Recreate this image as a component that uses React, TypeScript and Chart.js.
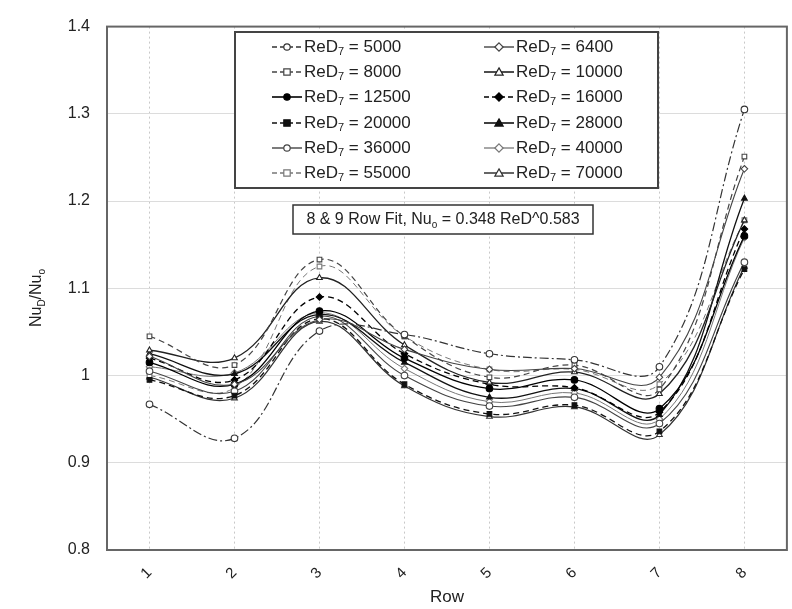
import React, { useEffect, useRef } from "react";
import { Chart, registerables } from "chart.js";

Chart.register(...registerables);

const ROWS = ["1", "2", "3", "4", "5", "6", "7", "8"];
const RE_LABELS = ["5000", "6400", "8000", "10000", "12500", "16000", "20000", "28000", "36000", "40000", "55000", "70000"];

const nu5000 = [0.967, 0.928, 1.051, 1.047, 1.025, 1.018, 1.010, 1.305];
const nu6400 = [1.022, 0.990, 1.064, 1.030, 1.007, 1.008, 0.998, 1.237];
const nu8000 = [1.045, 1.012, 1.133, 1.045, 0.998, 1.012, 0.984, 1.251];
const nu10000 = [1.029, 1.020, 1.112, 1.035, 0.992, 1.004, 0.979, 1.178];
const nu12500 = [1.015, 0.990, 1.074, 1.020, 0.985, 0.995, 0.962, 1.160];
const nu16000 = [1.020, 0.995, 1.090, 1.025, 0.990, 0.986, 0.958, 1.168];
const nu20000 = [0.995, 0.977, 1.065, 0.990, 0.956, 0.966, 0.936, 1.122];
const nu28000 = [1.025, 1.002, 1.070, 1.015, 0.975, 0.985, 0.955, 1.203];
const nu36000 = [1.005, 0.982, 1.068, 1.000, 0.965, 0.975, 0.945, 1.130];
const nu40000 = [1.010, 1.003, 1.072, 1.008, 0.970, 0.980, 0.950, 1.158];
const nu55000 = [1.000, 0.986, 1.125, 1.045, 1.007, 1.007, 0.990, 1.178];
const nu70000 = [0.998, 0.974, 1.062, 0.988, 0.953, 0.964, 0.932, 1.125];

const SERIES = [nu5000, nu6400, nu8000, nu10000, nu12500, nu16000, nu20000, nu28000, nu36000, nu40000, nu55000, nu70000];

const Y_TICKS = [0.8, 0.9, 1, 1.1, 1.2, 1.3, 1.4];

type Sty = { marker: string; filled: boolean; dash: number[]; color: string; width: number };
const STYLES: Sty[] = [
  { marker: "circle", filled: false, dash: [9, 3, 2, 3], color: "#333", width: 1.2 },
  { marker: "rectRot", filled: false, dash: [], color: "#444", width: 1.1 },
  { marker: "rect", filled: false, dash: [6, 4], color: "#444", width: 1.2 },
  { marker: "triangle", filled: false, dash: [], color: "#222", width: 1.3 },
  { marker: "circle", filled: true, dash: [], color: "#000", width: 1.3 },
  { marker: "rectRot", filled: true, dash: [6, 4], color: "#000", width: 1.3 },
  { marker: "rect", filled: true, dash: [6, 4], color: "#111", width: 1.3 },
  { marker: "triangle", filled: true, dash: [], color: "#111", width: 1.3 },
  { marker: "circle", filled: false, dash: [], color: "#444", width: 1.1 },
  { marker: "rectRot", filled: false, dash: [], color: "#777", width: 1.0 },
  { marker: "rect", filled: false, dash: [6, 4], color: "#777", width: 1.0 },
  { marker: "triangle", filled: false, dash: [], color: "#333", width: 1.2 },
];

const FONT = "'Liberation Sans', Arial, sans-serif";

function drawMarker(ctx: CanvasRenderingContext2D, s: Sty, x: number, y: number, r: number) {
  ctx.save();
  ctx.setLineDash([]);
  ctx.lineWidth = 1.2;
  ctx.strokeStyle = s.color;
  ctx.fillStyle = s.filled ? s.color : "#fff";
  ctx.beginPath();
  if (s.marker === "circle") {
    ctx.arc(x, y, r, 0, Math.PI * 2);
  } else if (s.marker === "rect") {
    ctx.rect(x - r, y - r, 2 * r, 2 * r);
  } else if (s.marker === "rectRot") {
    const d = r * 1.3;
    ctx.moveTo(x, y - d);
    ctx.lineTo(x + d, y);
    ctx.lineTo(x, y + d);
    ctx.lineTo(x - d, y);
    ctx.closePath();
  } else {
    const d = r * 1.3;
    ctx.moveTo(x, y - d);
    ctx.lineTo(x + d, y + d * 0.75);
    ctx.lineTo(x - d, y + d * 0.75);
    ctx.closePath();
  }
  ctx.fill();
  ctx.stroke();
  ctx.restore();
}

function drawRich(ctx: CanvasRenderingContext2D, parts: [string, boolean][], x: number, y: number, size: number) {
  let cx = x;
  ctx.textBaseline = "middle";
  ctx.textAlign = "left";
  for (const [t, sub] of parts) {
    const fs = sub ? Math.round(size * 0.62) : size;
    ctx.font = `${fs}px ${FONT}`;
    ctx.fillText(t, cx, sub ? y + size * 0.3 : y);
    cx += ctx.measureText(t).width;
  }
  return cx - x;
}

function richWidth(ctx: CanvasRenderingContext2D, parts: [string, boolean][], size: number) {
  let w = 0;
  for (const [t, sub] of parts) {
    const fs = sub ? Math.round(size * 0.62) : size;
    ctx.font = `${fs}px ${FONT}`;
    w += ctx.measureText(t).width;
  }
  return w;
}

const overlayPlugin = {
  id: "overlay",
  afterDatasetsDraw(chart: any) {
    const ctx: CanvasRenderingContext2D = chart.ctx;
    const a = chart.chartArea;
    ctx.save();
    ctx.strokeStyle = "#666";
    ctx.lineWidth = 2;
    ctx.setLineDash([]);
    ctx.strokeRect(a.left, a.top, a.right - a.left, a.bottom - a.top);

    ctx.save();
    ctx.fillStyle = "#222";
    const yParts: [string, boolean][] = [["Nu", false], ["D", true], ["/Nu", false], ["o", true]];
    const tw = richWidth(ctx, yParts, 16);
    ctx.translate(37, 298);
    ctx.rotate(-Math.PI / 2);
    drawRich(ctx, yParts, -tw / 2, 0, 16);
    ctx.restore();

    ctx.fillStyle = "#fff";
    ctx.fillRect(235, 32, 423, 156);
    ctx.strokeStyle = "#444";
    ctx.lineWidth = 2;
    ctx.strokeRect(235, 32, 423, 156);
    const rowsY = [47, 72, 97, 123, 148, 173];
    for (let i = 0; i < RE_LABELS.length; i++) {
      const col = i % 2;
      const row = Math.floor(i / 2);
      const y = rowsY[row];
      const lx0 = col === 0 ? 272 : 484;
      const s = STYLES[i];
      ctx.save();
      ctx.strokeStyle = s.color;
      ctx.lineWidth = s.width + 0.3;
      ctx.setLineDash(s.dash.length ? [5, 3] : []);
      ctx.beginPath();
      ctx.moveTo(lx0, y);
      ctx.lineTo(lx0 + 30, y);
      ctx.stroke();
      ctx.restore();
      drawMarker(ctx, s, lx0 + 15, y, 3.2);
      ctx.fillStyle = "#222";
      drawRich(ctx, [["ReD", false], ["7", true], [" = " + RE_LABELS[i], false]], lx0 + 32, y, 17);
    }

    ctx.fillStyle = "#fff";
    ctx.fillRect(293, 205, 300, 29);
    ctx.strokeStyle = "#333";
    ctx.lineWidth = 1.5;
    ctx.strokeRect(293, 205, 300, 29);
    ctx.fillStyle = "#222";
    const fParts: [string, boolean][] = [["8 & 9 Row Fit, Nu", false], ["o", true], [" = 0.348 ReD^0.583", false]];
    const fw = richWidth(ctx, fParts, 16);
    drawRich(ctx, fParts, 443 - fw / 2, 220, 16);
    ctx.restore();
  },
};

export default function App() {
  const ref = useRef<HTMLCanvasElement | null>(null);
  useEffect(() => {
    if (!ref.current) return;
    const datasets = SERIES.map((vals, i) => {
      const s = STYLES[i];
      return {
        label: "ReD7 = " + RE_LABELS[i],
        data: vals,
        borderColor: s.color,
        borderWidth: s.width,
        borderDash: s.dash,
        backgroundColor: s.filled ? s.color : "#fff",
        pointBackgroundColor: s.filled ? s.color : "#fff",
        pointBorderColor: s.color,
        pointBorderWidth: 1.1,
        pointStyle: s.marker,
        pointRadius: 3.3,
        tension: 0.4,
        fill: false,
      };
    });
    const chart = new Chart(ref.current, {
      type: "line",
      data: { labels: ROWS, datasets },
      options: {
        animation: false,
        responsive: false,
        layout: { padding: { top: 18, right: 4, left: 0, bottom: 0 } },
        plugins: { legend: { display: false }, tooltip: { enabled: false } },
        scales: {
          x: {
            type: "category",
            offset: true,
            grid: { color: "#c8c8c8", lineWidth: 1, drawTicks: false },
            border: { display: false, dash: [2, 3] },
            ticks: {
              color: "#222",
              font: { family: FONT, size: 15 },
              minRotation: 45,
              maxRotation: 45,
              padding: 14,
            },
            title: { display: true, text: "Row", color: "#222", font: { family: FONT, size: 17 }, padding: { top: 0, bottom: 1 } },
            afterFit: (scale: any) => {
              scale.height = 59;
            },
          },
          y: {
            min: 0.8,
            max: 1.4,
            afterBuildTicks: (scale: any) => {
              scale.ticks = Y_TICKS.map((v) => ({ value: v }));
            },
            grid: { color: "#dcdcdc", lineWidth: 1, drawTicks: false },
            border: { display: false },
            ticks: {
              color: "#222",
              font: { family: FONT, size: 16 },
              padding: 17,
              callback: (v: any) => String(Number(Number(v).toFixed(1))),
            },
            afterFit: (scale: any) => {
              scale.width = 107;
            },
          },
        },
      },
      plugins: [overlayPlugin],
    });
    return () => chart.destroy();
  }, []);
  return (
    <div style={{ position: "fixed", left: 0, top: 0, width: 792, height: 609, background: "#fff" }}>
      <canvas ref={ref} width={792} height={609} style={{ display: "block" }} />
    </div>
  );
}
